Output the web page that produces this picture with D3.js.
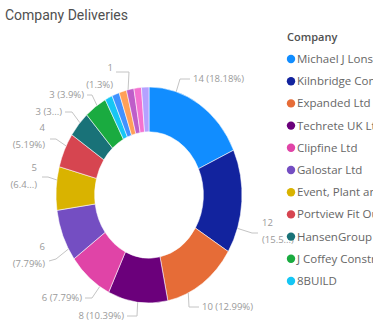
<!DOCTYPE html>
<html>
<head>
<meta charset="utf-8">
<script src="https://cdn.jsdelivr.net/npm/d3@7"></script>
<style>
  body { margin: 0; background: #fff; }
  svg { display: block; }
</style>
</head>
<body>
<svg id="chart" width="373" height="325"></svg>
<script>
// Deliveries per company
const companies = [
  "Michael J Lonsdale", "Kilnbridge Construction", "Expanded Ltd", "Techrete UK Ltd",
  "Clipfine Ltd", "Galostar Ltd", "Event, Plant and Access", "Portview Fit Out",
  "HansenGroup", "J Coffey Construction", "8BUILD", "Company L", "Company M",
  "Company N", "Company O", "Company P"
];
const deliveries = [14, 12, 10, 8, 6, 6, 5, 4, 3, 3, 1, 1, 1, 1, 1, 1];
const palette = [
  "#118DFF", "#12239E", "#E66C37", "#6B007B", "#E044A7", "#744EC2", "#D9B300",
  "#D64550", "#197278", "#1AAB40", "#15C6F4", "#4092FF", "#FFA058", "#BE5DC9",
  "#F472D0", "#B5A1FF"
];
const legendPageSize = 11;   // entries shown on the first legend page

const svg = d3.select("#chart");
const cx = 149, cy = 195, ry = 108, rx = 93;   // donut drawn as an ellipse
const innerRatio = 0.585;

svg.append("text")
  .attr("x", 5).attr("y", 20)
  .attr("font-family", "Roboto, 'Open Sans', sans-serif")
  .attr("font-size", 14)
  .attr("fill", "#505050")
  .text("Company Deliveries");

const total = d3.sum(deliveries);
const data = companies.map((c, i) => ({ company: c, value: deliveries[i], color: palette[i] }));

const pie = d3.pie().value(d => d.value).sort(null);
const arcs = pie(data);
const arc = d3.arc().innerRadius(ry * innerRatio).outerRadius(ry);

const g = svg.append("g")
  .attr("transform", `translate(${cx},${cy}) scale(${rx / ry},1)`);
g.selectAll("path").data(arcs).join("path")
  .attr("d", arc)
  .attr("fill", d => d.data.color)
  .attr("stroke", "#fff")
  .attr("stroke-width", 0.6);

// Data labels: value and share of total, with leader lines back to the ring
const pctFmt = v => (+(v / total * 100).toFixed(2)).toString();
const labelLayout = [
  { i: 0, anchor: "start", x: 193, y: 79, angle: 17, wrap: false, path: [[180, 79], [190, 79]] },
  { i: 1, anchor: "start", x: 262, y: 223, angle: 108, wrap: true, keep: 4, path: [[252, 233], [258, 233]] },
  { i: 2, anchor: "start", x: 202, y: 307, angle: 155, wrap: false, path: [[189, 307], [199, 307]] },
  { i: 3, anchor: "end", x: 124, y: 316, angle: 187, wrap: false, path: [[137, 316], [127, 316]] },
  { i: 4, anchor: "end", x: 82, y: 298, angle: 212, wrap: false, path: [[92, 298], [85, 298]] },
  { i: 5, anchor: "end", x: 45, y: 247, angle: 240, wrap: true, path: [[56, 259], [49, 261]] },
  { i: 6, anchor: "end", x: 37, y: 168, angle: 278, wrap: true, keep: 3, path: [[48, 177], [42, 177]] },
  { i: 7, anchor: "end", x: 45, y: 128, angle: 297, wrap: true, path: [[56, 139], [50, 139]] },
  { i: 8, anchor: "end", x: 62, y: 112, angle: 312, wrap: false, keep: 1, path: [[72, 112], [65, 112]] },
  { i: 9, anchor: "end", x: 84, y: 95, angle: 326, wrap: false, path: [[92, 95], [87, 95]] },
  { i: 10, anchor: "end", x: 113, y: 68, angle: 347, wrap: true, path: [[129, 72], [116, 72]] }
];

const edgePoint = deg => {
  const a = deg * Math.PI / 180;
  return [cx + rx * Math.sin(a), cy - ry * Math.cos(a)];
};

const labels = svg.append("g")
  .attr("font-family", "'Open Sans', 'Noto Sans', sans-serif")
  .attr("font-size", 9.5)
  .attr("fill", "#9a9a9a");

labelLayout.forEach(L => {
  const v = data[L.i].value;
  const pct = L.keep !== undefined ? pctFmt(v).slice(0, L.keep) + "..." : pctFmt(v) + "%";
  const lines = L.wrap ? [String(v), `(${pct})`] : [`${v} (${pct})`];

  const pts = [edgePoint(L.angle), ...L.path];
  svg.append("path")
    .attr("d", d3.line()(pts))
    .attr("fill", "none")
    .attr("stroke", "#c4c4c4")
    .attr("stroke-width", 1);

  lines.forEach((t, k) => {
    labels.append("text")
      .attr("x", L.x).attr("y", L.y + k * 17)
      .attr("dy", "0.35em")
      .attr("text-anchor", L.anchor)
      .text(t);
  });
});

// Legend (first page), clipped to the visual's right edge
svg.append("defs").append("clipPath").attr("id", "legend-clip")
  .append("rect").attr("x", 280).attr("y", 25).attr("width", 93).attr("height", 300);

const legend = svg.append("g")
  .attr("clip-path", "url(#legend-clip)")
  .attr("font-family", "'Open Sans', 'Noto Sans', sans-serif");
legend.append("text")
  .attr("x", 287).attr("y", 41)
  .attr("font-size", 11).attr("font-weight", 600)
  .attr("fill", "#505050")
  .text("Company");
const items = legend.selectAll("g.item").data(data.slice(0, legendPageSize)).join("g")
  .attr("class", "item")
  .attr("transform", (d, i) => `translate(291,${59 + i * 22.2})`);
items.append("circle").attr("r", 4.2).attr("fill", d => d.color);
items.append("text")
  .attr("x", 6).attr("dy", "0.35em")
  .attr("font-size", 11.5)
  .attr("fill", "#666")
  .text(d => d.company);
</script>
</body>
</html>
